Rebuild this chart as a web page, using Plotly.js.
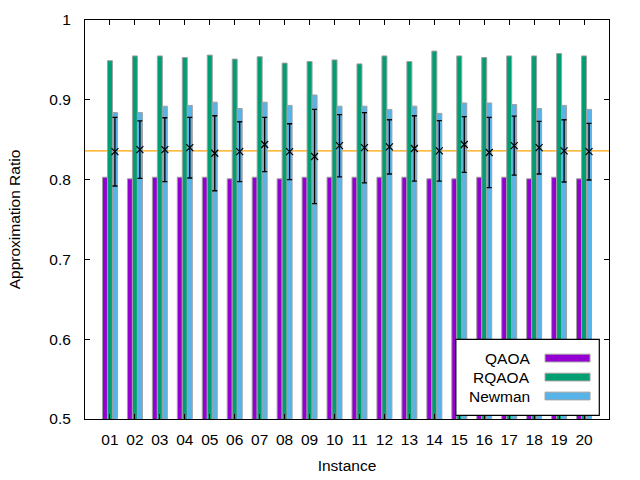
<!DOCTYPE html>
<html>
<head>
<meta charset="utf-8">
<script src="https://cdn.plot.ly/plotly-3.0.1.min.js"></script>
<style>html,body{margin:0;padding:0;background:#fff;}#chart{width:640px;height:480px;}</style>
</head>
<body>
<div id="chart"></div>
<script>
// ---- data ----
const instances = [1,2,3,4,5,6,7,8,9,10,11,12,13,14,15,16,17,18,19,20];
const instanceLabels = ['01','02','03','04','05','06','07','08','09','10','11','12','13','14','15','16','17','18','19','20'];
const qaoa = [0.803,0.801,0.803,0.803,0.803,0.801,0.803,0.801,0.803,0.803,0.803,0.803,0.803,0.801,0.801,0.803,0.803,0.801,0.803,0.801];
const rqaoa = [0.949,0.955,0.955,0.953,0.956,0.951,0.954,0.946,0.948,0.950,0.945,0.955,0.948,0.961,0.955,0.953,0.955,0.955,0.958,0.955];
const newman = [0.884,0.884,0.892,0.893,0.897,0.889,0.897,0.893,0.906,0.892,0.892,0.888,0.892,0.883,0.896,0.896,0.894,0.889,0.893,0.888];
const sampleMean = [0.835,0.8375,0.8375,0.840,0.833,0.835,0.844,0.835,0.829,0.8425,0.840,0.841,0.839,0.836,0.844,0.834,0.8425,0.840,0.836,0.835];
const sampleStd = [0.043,0.036,0.040,0.038,0.047,0.0375,0.034,0.035,0.059,0.039,0.044,0.034,0.041,0.038,0.035,0.044,0.037,0.033,0.039,0.0355];
const referenceLevel = 0.836;
const yTicks = [0.5,0.6,0.7,0.8,0.9,1];
const yTickLabels = ['0.5','0.6','0.7','0.8','0.9','1'];
const seriesNames = ['QAOA','RQAOA','Newman'];
const seriesColors = ['#9400d3','#009e73','#56b4e9'];

// ---- traces ----
const FONT = 'Liberation Sans, Arial, sans-serif';
const FS = 15.5;
const outline = {color:'#a0a0a0', width:1};
const seriesData = [qaoa, rqaoa, newman];
const traces = seriesData.map((vals, i) => ({
  type:'bar', x:instances, y:vals, name:seriesNames[i],
  marker:{color:seriesColors[i], line:outline},
  showlegend:false, hoverinfo:'skip'
}));
// error points centered over the Newman bars (third bar of each group)
const barSlot = 0.2;
traces.push({
  type:'scatter', mode:'markers',
  x:instances.map(v => v + barSlot), y:sampleMean,
  marker:{symbol:'x-thin-open', size:7, color:'#000', line:{color:'#000', width:1.2}},
  error_y:{type:'data', array:sampleStd, visible:true, color:'#000', thickness:1.3, width:2.5},
  showlegend:false, hoverinfo:'skip', cliponaxis:false
});

// ---- custom gnuplot-style legend (text right-aligned, sample box on the right) ----
const legX0 = 0.7077, legX1 = 0.9815, legY0 = 0.0093, legY1 = 0.1995;
const rowY = [0.1527, 0.1051, 0.0576];
const shapes = [
  {type:'line', xref:'paper', yref:'y', x0:0, x1:1, y0:referenceLevel, y1:referenceLevel,
   line:{color:'#ffa500', width:1.3}, layer:'below'},
  {type:'rect', xref:'paper', yref:'paper', x0:legX0, x1:legX1, y0:legY0, y1:legY1,
   fillcolor:'#fff', line:{color:'#000', width:1.2}, layer:'above'}
];
const annotations = [];
seriesNames.forEach((nm, i) => {
  shapes.push({type:'rect', xref:'paper', yref:'paper', x0:0.878, x1:0.9638,
    y0:rowY[i]-0.0097, y1:rowY[i]+0.0097, fillcolor:seriesColors[i],
    line:{color:'#a0a0a0', width:1}, layer:'above'});
  annotations.push({xref:'paper', yref:'paper', x:0.8532, y:rowY[i], xanchor:'right', yanchor:'middle',
    text:nm, showarrow:false, font:{family:FONT, size:FS, color:'#000'}});
});

const layout = {
  width:640, height:480,
  margin:{l:84.5, r:31, t:19.5, b:61},
  paper_bgcolor:'#fff', plot_bgcolor:'#fff',
  barmode:'group', bargap:0.4, bargroupgap:0,
  font:{family:FONT, size:FS, color:'#000'},
  xaxis:{
    range:[0,21], tickmode:'array', tickvals:instances, ticktext:instanceLabels,
    ticks:'inside', ticklen:5, tickcolor:'#000', tickwidth:1,
    showline:true, linecolor:'#000', linewidth:1, mirror:'ticks',
    showgrid:false, zeroline:false, ticklabelstandoff:6,
    title:{text:'Instance', font:{family:FONT, size:FS}, standoff:13}
  },
  yaxis:{
    range:[0.5,1], tickmode:'array', tickvals:yTicks, ticktext:yTickLabels,
    ticks:'inside', ticklen:5, tickcolor:'#000', tickwidth:1,
    showline:true, linecolor:'#000', linewidth:1, mirror:'ticks',
    showgrid:false, zeroline:false, ticklabelstandoff:10,
    title:{text:'Approximation Ratio', font:{family:FONT, size:FS}, standoff:24}
  },
  shapes:shapes, annotations:annotations, showlegend:false
};
Plotly.newPlot('chart', traces, layout, {staticPlot:true, displayModeBar:false});
</script>
</body>
</html>
